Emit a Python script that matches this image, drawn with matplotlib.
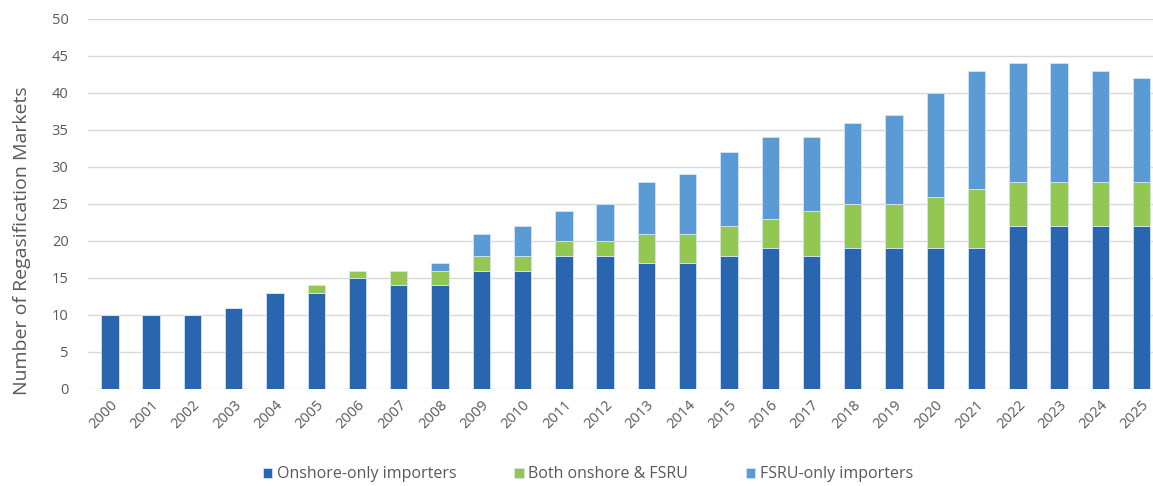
import numpy as np
import matplotlib
matplotlib.use('Agg')
import matplotlib.pyplot as plt

# Regasification markets by importer type, 2000-2025
years = [str(y) for y in range(2000, 2026)]
onshore_only = [10, 10, 10, 11, 13, 13, 15, 14, 14, 16, 16, 18, 18, 17, 17, 18, 19, 18, 19, 19, 19, 19, 22, 22, 22, 22]
both = [0, 0, 0, 0, 0, 1, 1, 2, 2, 2, 2, 2, 2, 4, 4, 4, 4, 6, 6, 6, 7, 8, 6, 6, 6, 6]
fsru_only = [0, 0, 0, 0, 0, 0, 0, 0, 1, 3, 4, 4, 5, 7, 8, 10, 11, 10, 11, 12, 14, 16, 16, 16, 15, 14]

plt.rcParams['font.family'] = ['Open Sans', 'DejaVu Sans']
text_gray = '#595959'

fig = plt.figure(figsize=(11.53, 4.86), dpi=100)
ax = fig.add_axes([0.0763, 0.1996, 0.93, 0.7614])

x = np.arange(len(years))
w = 0.42
onshore_only = np.array(onshore_only)
both = np.array(both)
fsru_only = np.array(fsru_only)

ax.bar(x, onshore_only, w, color='#2a66b0', edgecolor='#d6e3f3', linewidth=0.6,
       label='Onshore-only importers', zorder=3)
ax.bar(x, both, w, bottom=onshore_only, color='#92c752', edgecolor='#d6e3f3',
       linewidth=0.6, label='Both onshore & FSRU', zorder=3)
ax.bar(x, fsru_only, w, bottom=onshore_only + both, color='#5b9bd5',
       edgecolor='#d6e3f3', linewidth=0.6, label='FSRU-only importers', zorder=3)

ax.set_xlim(-0.53, 25.45)
ax.set_ylim(0, 50)
ax.set_yticks(range(0, 51, 5))
ax.yaxis.grid(True, color='#d9d9d9', linewidth=1, zorder=0)
ax.set_xticks(x)
ax.set_xticklabels(years, rotation=45, ha='right', rotation_mode='anchor')
ax.tick_params(axis='both', length=0, labelsize=10.5, colors=text_gray)
ax.tick_params(axis='x', pad=6)
ax.tick_params(axis='y', pad=14)
for s in ax.spines.values():
    s.set_visible(False)

ax.set_ylabel('Number of Regasification Markets', fontsize=14, color=text_gray)
ax.yaxis.set_label_coords(-0.053, 0.40)

leg = fig.legend(loc='lower center', bbox_to_anchor=(0.51, -0.022), ncol=3, frameon=False,
                 fontsize=11.5, handlelength=0.6, handleheight=0.6, handletextpad=0.3,
                 columnspacing=3.6)
for t in leg.get_texts():
    t.set_color(text_gray)

fig.savefig('out.png', dpi=100)
